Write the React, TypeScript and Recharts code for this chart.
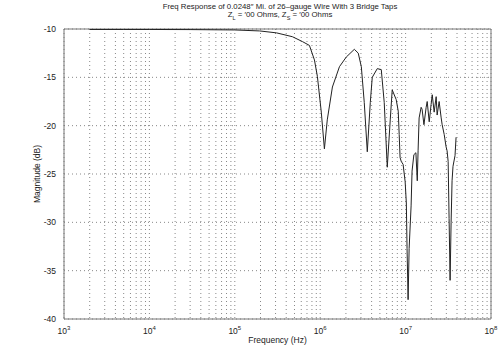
import React from "react";
import { LineChart, Line, XAxis, YAxis, CartesianGrid, ReferenceArea } from "recharts";

// frequency (Hz) and magnitude (dB)
const freqHz = [
  2000, 5000, 1e4, 3e4, 1e5, 1.95e5, 3.08e5, 4.73e5, 6.19e5, 7.48e5,
  8.56e5, 9.27e5, 1.03e6, 1.12e6, 1.21e6, 1.39e6, 1.68e6, 2.02e6, 2.51e6, 2.79e6,
  3.03e6, 3.28e6, 3.56e6, 3.86e6, 4.07e6, 4.66e6, 5.19e6, 5.62e6, 6.1e6, 6.61e6,
  6.97e6, 7.76e6, 8.2e6, 8.41e6, 8.62e6, 8.89e6, 9.35e6, 9.88e6, 1.02e7, 1.04e7,
  1.07e7, 1.1e7, 1.16e7, 1.19e7, 1.25e7, 1.32e7, 1.37e7, 1.4e7, 1.44e7, 1.52e7,
  1.56e7, 1.64e7, 1.74e7, 1.79e7, 1.89e7, 1.99e7, 2.05e7, 2.16e7, 2.28e7, 2.34e7,
  2.47e7, 2.61e7, 2.68e7, 2.83e7, 2.98e7, 3.06e7, 3.15e7, 3.23e7, 3.32e7, 3.41e7,
  3.5e7, 3.59e7, 3.79e7, 3.9e7,
];
const magDb = [
  -10.05, -10.05, -10.05, -10.06, -10.1, -10.2, -10.4, -10.8, -11.3, -11.7,
  -13.2, -14.9, -18.6, -22.4, -19.4, -16.0, -13.9, -12.9, -12.1, -12.5,
  -13.9, -17.6, -22.7, -17.6, -15.0, -14.1, -14.2, -17.6, -24.3, -19.4,
  -16.3, -17.3, -18.5, -20.9, -23.3, -23.7, -24.0, -25.8, -28.0, -32.7,
  -38.0, -32.7, -28.3, -24.7, -23.0, -22.8, -25.7, -22.6, -19.2, -18.1,
  -18.3, -19.9, -18.1, -17.5, -19.6, -17.8, -16.8, -18.6, -17.0, -18.9,
  -17.5, -19.2, -19.9, -20.9, -22.2, -22.6, -23.7, -29.6, -36.0, -30.0,
  -25.7, -24.2, -23.1, -21.2,
];

const decades = [3, 4, 5, 6, 7, 8];
const minorSteps = [2, 3, 4, 5, 6, 7, 8, 9];
const yTicks = [-40, -35, -30, -25, -20, -15, -10];

const xTicks: number[] = [];
decades.forEach((d) => {
  xTicks.push(Math.pow(10, d));
  if (d < 8) minorSteps.forEach((m) => xTicks.push(m * Math.pow(10, d)));
});

const data = freqHz.map((f, i) => ({ f, db: magDb[i] }));

const font = "'Liberation Sans', Arial, sans-serif";

function DecadeTick(props: any) {
  const { x, y, payload } = props;
  const exp = Math.log10(payload.value);
  if (Math.abs(exp - Math.round(exp)) > 1e-9) return null;
  return (
    <text x={x} y={y + 7} textAnchor="middle" fontSize={8.5} fill="#222" fontFamily={font}>
      <tspan>10</tspan>
      <tspan dy={-4} fontSize={6}>{Math.round(exp)}</tspan>
    </text>
  );
}

export default function App() {
  return (
    <div style={{ position: "absolute", left: 0, top: 0, width: 498, height: 346, background: "#fff", fontFamily: font }}>
      <div style={{ position: "absolute", left: 0, width: 560, top: 3, textAlign: "center", fontSize: 7.8, lineHeight: "8px", color: "#222" }}>
        Freq Response of 0.0248′′ Mi. of 26–gauge Wire With 3 Bridge Taps
        <br />
        Z<sub style={{ fontSize: 5.5 }}>L</sub> = ′00 Ohms, Z<sub style={{ fontSize: 5.5 }}>S</sub> = ′00 Ohms
      </div>
      <div
        style={{
          position: "absolute",
          left: 37,
          top: 174,
          transform: "translate(-50%, -50%) rotate(-90deg)",
          fontSize: 8.5,
          color: "#222",
          whiteSpace: "nowrap",
        }}
      >
        Magnitude (dB)
      </div>
      <div style={{ position: "absolute", left: 64, width: 427, top: 335, textAlign: "center", fontSize: 8.5, lineHeight: "10px", color: "#222" }}>
        Frequency (Hz)
      </div>
      <LineChart width={498} height={346} data={data} margin={{ top: 29, right: 7, left: 0, bottom: 0 }}>
        <CartesianGrid stroke="#888" strokeDasharray="1 3" />
        <XAxis
          dataKey="f"
          type="number"
          scale="log"
          domain={[1e3, 1e8]}
          ticks={xTicks}
          interval={0}
          allowDataOverflow
          tick={<DecadeTick />}
          tickLine={false}
          axisLine={false}
          height={27}
        />
        <YAxis
          type="number"
          domain={[-40, -10]}
          ticks={yTicks}
          interval={0}
          allowDataOverflow
          width={64}
          tickLine={false}
          axisLine={false}
          tick={{ fontSize: 8.5, fill: "#222", fontFamily: font }}
          tickMargin={2}
        />
        <ReferenceArea x1={1e3} x2={1e8} y1={-40} y2={-10} fill="none" stroke="#777" strokeWidth={1} />
        <Line type="linear" dataKey="db" stroke="#222" strokeWidth={1} dot={false} isAnimationActive={false} />
      </LineChart>
    </div>
  );
}
